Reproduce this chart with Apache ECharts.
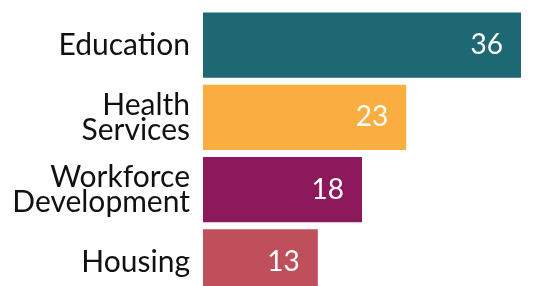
<!DOCTYPE html>
<html>
<head>
<meta charset="utf-8">
<script src="https://cdn.jsdelivr.net/npm/echarts@6/dist/echarts.min.js"></script>
<style>
  html, body { margin: 0; padding: 0; background: #fff; overflow: hidden; }
  #mychart { width: 535px; height: 298px; }
</style>
</head>
<body>
<div id="mychart"></div>
<script>
// data
const categories = ['Education', 'Health\nServices', 'Workforce\nDevelopment', 'Housing'];
const values = [36, 23, 18, 13];
const barColors = ['#1e6873', '#f9ae3f', '#8c195c', '#c04f5c'];

// the last bar runs off the bottom of the picture, so the chart is a bit taller than the window
const myChart = echarts.init(document.getElementById('mychart'));

const option = {
  animation: false,
  grid: {
    left: 203,
    right: 14,
    top: 9,
    bottom: 0,
    containLabel: false
  },
  xAxis: {
    type: 'value',
    min: 0,
    max: 36,
    show: false
  },
  yAxis: {
    type: 'category',
    inverse: true,
    data: categories,
    axisLine: { show: false },
    axisTick: { show: false },
    axisLabel: {
      margin: 13,
      color: '#111',
      fontFamily: 'Lato',
      fontSize: 30,
      lineHeight: 25,
      align: 'right'
    }
  },
  series: [{
    type: 'bar',
    barCategoryGap: '10%',
    data: values.map((v, i) => ({
      value: v,
      itemStyle: { color: barColors[i] }
    })),
    label: {
      show: true,
      position: 'insideRight',
      distance: 18,
      color: '#fff',
      fontFamily: 'Lato',
      fontSize: 28
    }
  }]
};

myChart.setOption(option);
</script>
</body>
</html>
